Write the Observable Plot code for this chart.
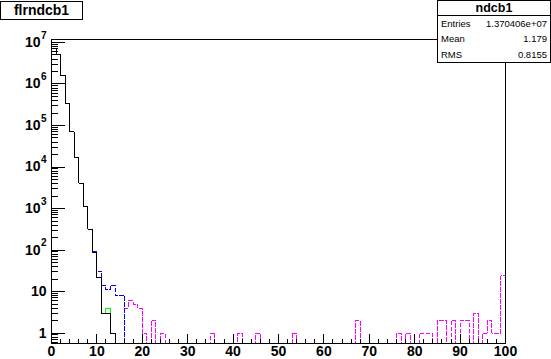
<!DOCTYPE html>
<html>
<head>
<meta charset="utf-8">
<script src="https://cdn.jsdelivr.net/npm/d3@7"></script>
<script src="https://cdn.jsdelivr.net/npm/@observablehq/plot@0.6"></script>
<style>
  html, body { margin: 0; padding: 0; background: #fff; }
  #wrap { position: relative; width: 551px; height: 359px; overflow: hidden;
          font-family: "Liberation Sans", Arial, Helvetica, sans-serif; }
  #chart svg path, #chart svg line { shape-rendering: crispEdges; }
  #title { position: absolute; left: 0px; top: 1px; width: 81px; height: 17px;
           border: 1px solid #000; background: #fff; font-weight: bold; font-size: 14px;
           line-height: 17px; text-align: center; color: #000; }
  #stats { position: absolute; left: 437px; top: 0px; width: 112px; height: 61px;
           border: 1px solid #000; background: #fff; color: #000; }
  #stats .hdr { position: absolute; left: 0; top: 0; width: 112px; height: 14px;
                border-bottom: 1px solid #000; text-align: center; font-weight: bold;
                font-size: 12.5px; line-height: 15px; }
  #stats .row { position: absolute; left: 3px; width: 106px; height: 12px; font-size: 9.5px; line-height: 12px; }
  #stats .row .k { position: absolute; left: 0; }
  #stats .row .v { position: absolute; right: 0; }
</style>
</head>
<body>
<div id="wrap">
  <div id="chart"></div>
  <div id="title"></div>
  <div id="stats"></div>
</div>
<script>
// ---- text ----
const histTitle = "flrndcb1";
const statsName = "ndcb1";
const statsKeys = ["Entries", "Mean", "RMS"];
const statsVals = ["1.370406e+07", "1.179", "0.8155"];

// ---- histogram contents (bin width 1, x from 0 to 100) ----
const blackStart = 0;
const black = [7.2e6, 5.2e6, 1.6e6, 3.3e5, 7.0e4, 1.65e4, 4100, 1120, 320, 85, 22, 3, 3, 1];
const blueStart = 9;
const blue = [92, 31, 14, 11, 14, 8, 8];
const greenStart = 12;
const green = [4];
const magentaStart = 16;
const magenta = [
  4, 6, 5, 4, 1, 0, 2, 0, 1,          // 16-24
  0, 0, 0, 0, 0, 0, 0, 0, 0, 0,       // 25-34
  1, 0, 0, 0, 0, 0,                   // 35-40
  1, 0, 0, 0,                         // 41-44
  1, 0, 0, 0, 0, 0, 0, 0,             // 45-52
  1, 0, 0, 0, 0, 0, 0, 0, 0, 0, 0, 0, 0, 0, // 53-66
  2, 0, 0, 0, 0, 0, 0, 0, 0,          // 67-75
  1, 0, 1, 0, 0,                      // 76-80
  1, 1, 1, 0,                         // 81-84
  2, 2, 0, 2, 0,                      // 85-89
  2, 2, 0, 3, 0,                      // 90-94
  1, 2, 1, 1, 24                      // 95-99
];

// ---- axes ----
const xDomain = [0, 100];
const yDomain = [0.56, 1.18e7];
const xTicks = [0, 10, 20, 30, 40, 50, 60, 70, 80, 90, 100];
const xMinor = d3.range(0, 101, 2).filter(v => v % 10 !== 0);
const yDecades = [1, 10, 1e2, 1e3, 1e4, 1e5, 1e6, 1e7];
const yPlain = [1, 10];
const yPlainLabels = ["1", "10"];
const yPow = [1e2, 1e3, 1e4, 1e5, 1e6, 1e7];
const yPowExp = ["2", "3", "4", "5", "6", "7"];
const yMinor = [];
[0.1, 1, 10, 1e2, 1e3, 1e4, 1e5, 1e6].forEach(d => {
  for (let m = 2; m <= 9; m++) {
    const v = m * d;
    if (v > yDomain[0] && v < yDomain[1]) yMinor.push(v);
  }
});

const floor = 0.2; // below the frame: empty bins drop to the frame bottom

function steps(start, vals, before, after) {
  const pts = [];
  pts.push({x: start, y: before == null ? (vals[0] > 0 ? vals[0] : floor) : before});
  vals.forEach((v, i) => pts.push({x: start + i, y: v > 0 ? v : floor}));
  pts.push({x: start + vals.length, y: after == null ? floor : after});
  return pts;
}

const blackPts = steps(blackStart, black, floor, floor);
const bluePts = steps(blueStart, blue, black[blueStart - 1], floor);
const greenPts = steps(greenStart, green, black[greenStart - 1], black[greenStart + 1]);
const magentaPts = steps(magentaStart, magenta, null, floor);

const font = "Liberation Sans, Arial, Helvetica, sans-serif";

const chart = Plot.plot({
  width: 551,
  height: 359,
  marginLeft: 51,
  marginRight: 46,
  marginTop: 39,
  marginBottom: 16,
  style: {background: "transparent", fontFamily: font, color: "black", overflow: "visible"},
  x: {domain: xDomain, label: null},
  y: {type: "log", domain: yDomain, label: null},
  marks: [
    Plot.line(magentaPts, {x: "x", y: "y", curve: "step-after", stroke: "#ff00ff", strokeWidth: 1, strokeDasharray: "4,2", clip: true}),
    Plot.line(bluePts, {x: "x", y: "y", curve: "step-after", stroke: "#0000ff", strokeWidth: 1, strokeDasharray: "4,2", clip: true}),
    Plot.line(greenPts, {x: "x", y: "y", curve: "step-after", stroke: "#00ff00", strokeWidth: 1, clip: true}),
    Plot.line(blackPts, {x: "x", y: "y", curve: "step-after", stroke: "#000000", strokeWidth: 1, clip: true}),
    Plot.frame({stroke: "black", strokeWidth: 1}),
    // x ticks (inward)
    Plot.axisX(xTicks, {anchor: "bottom", tickSize: 9, dy: -9, tickFormat: () => "", label: null, stroke: "black"}),
    Plot.axisX(xMinor, {anchor: "bottom", tickSize: 4.5, dy: -4.5, tickFormat: () => "", label: null, stroke: "black"}),
    Plot.axisX(xTicks, {anchor: "bottom", tickSize: 0, tickPadding: 3, fontSize: 14, fontWeight: "bold", fill: "black", label: null}),
    // y ticks (inward)
    Plot.axisY(yDecades, {anchor: "left", tickSize: 14, dx: 14, tickFormat: () => "", label: null, stroke: "black"}),
    Plot.axisY(yMinor, {anchor: "left", tickSize: 7, dx: 7, tickFormat: () => "", label: null, stroke: "black"}),
    // y labels
    Plot.text(yPlain, {y: d => d, frameAnchor: "left", text: (d, i) => yPlainLabels[i], textAnchor: "end", dx: -5, fontSize: 14, fontWeight: "bold", fill: "black"}),
    Plot.text(yPow, {y: d => d, frameAnchor: "left", text: () => "10", textAnchor: "end", dx: -11, fontSize: 14, fontWeight: "bold", fill: "black"}),
    Plot.text(yPow, {y: d => d, frameAnchor: "left", text: (d, i) => yPowExp[i], textAnchor: "start", dx: -10.5, dy: -7, fontSize: 10, fontWeight: "bold", fill: "black"})
  ]
});
document.getElementById("chart").appendChild(chart);

document.getElementById("title").textContent = histTitle;
const stats = document.getElementById("stats");
const hdr = document.createElement("div");
hdr.className = "hdr";
hdr.textContent = statsName;
stats.appendChild(hdr);
const rowTops = [17, 32, 48];
statsKeys.forEach((k, i) => {
  const r = document.createElement("div");
  r.className = "row";
  r.style.top = rowTops[i] + "px";
  const a = document.createElement("span"); a.className = "k"; a.textContent = k;
  const b = document.createElement("span"); b.className = "v"; b.textContent = statsVals[i];
  r.appendChild(a); r.appendChild(b);
  stats.appendChild(r);
});
</script>
</body>
</html>
